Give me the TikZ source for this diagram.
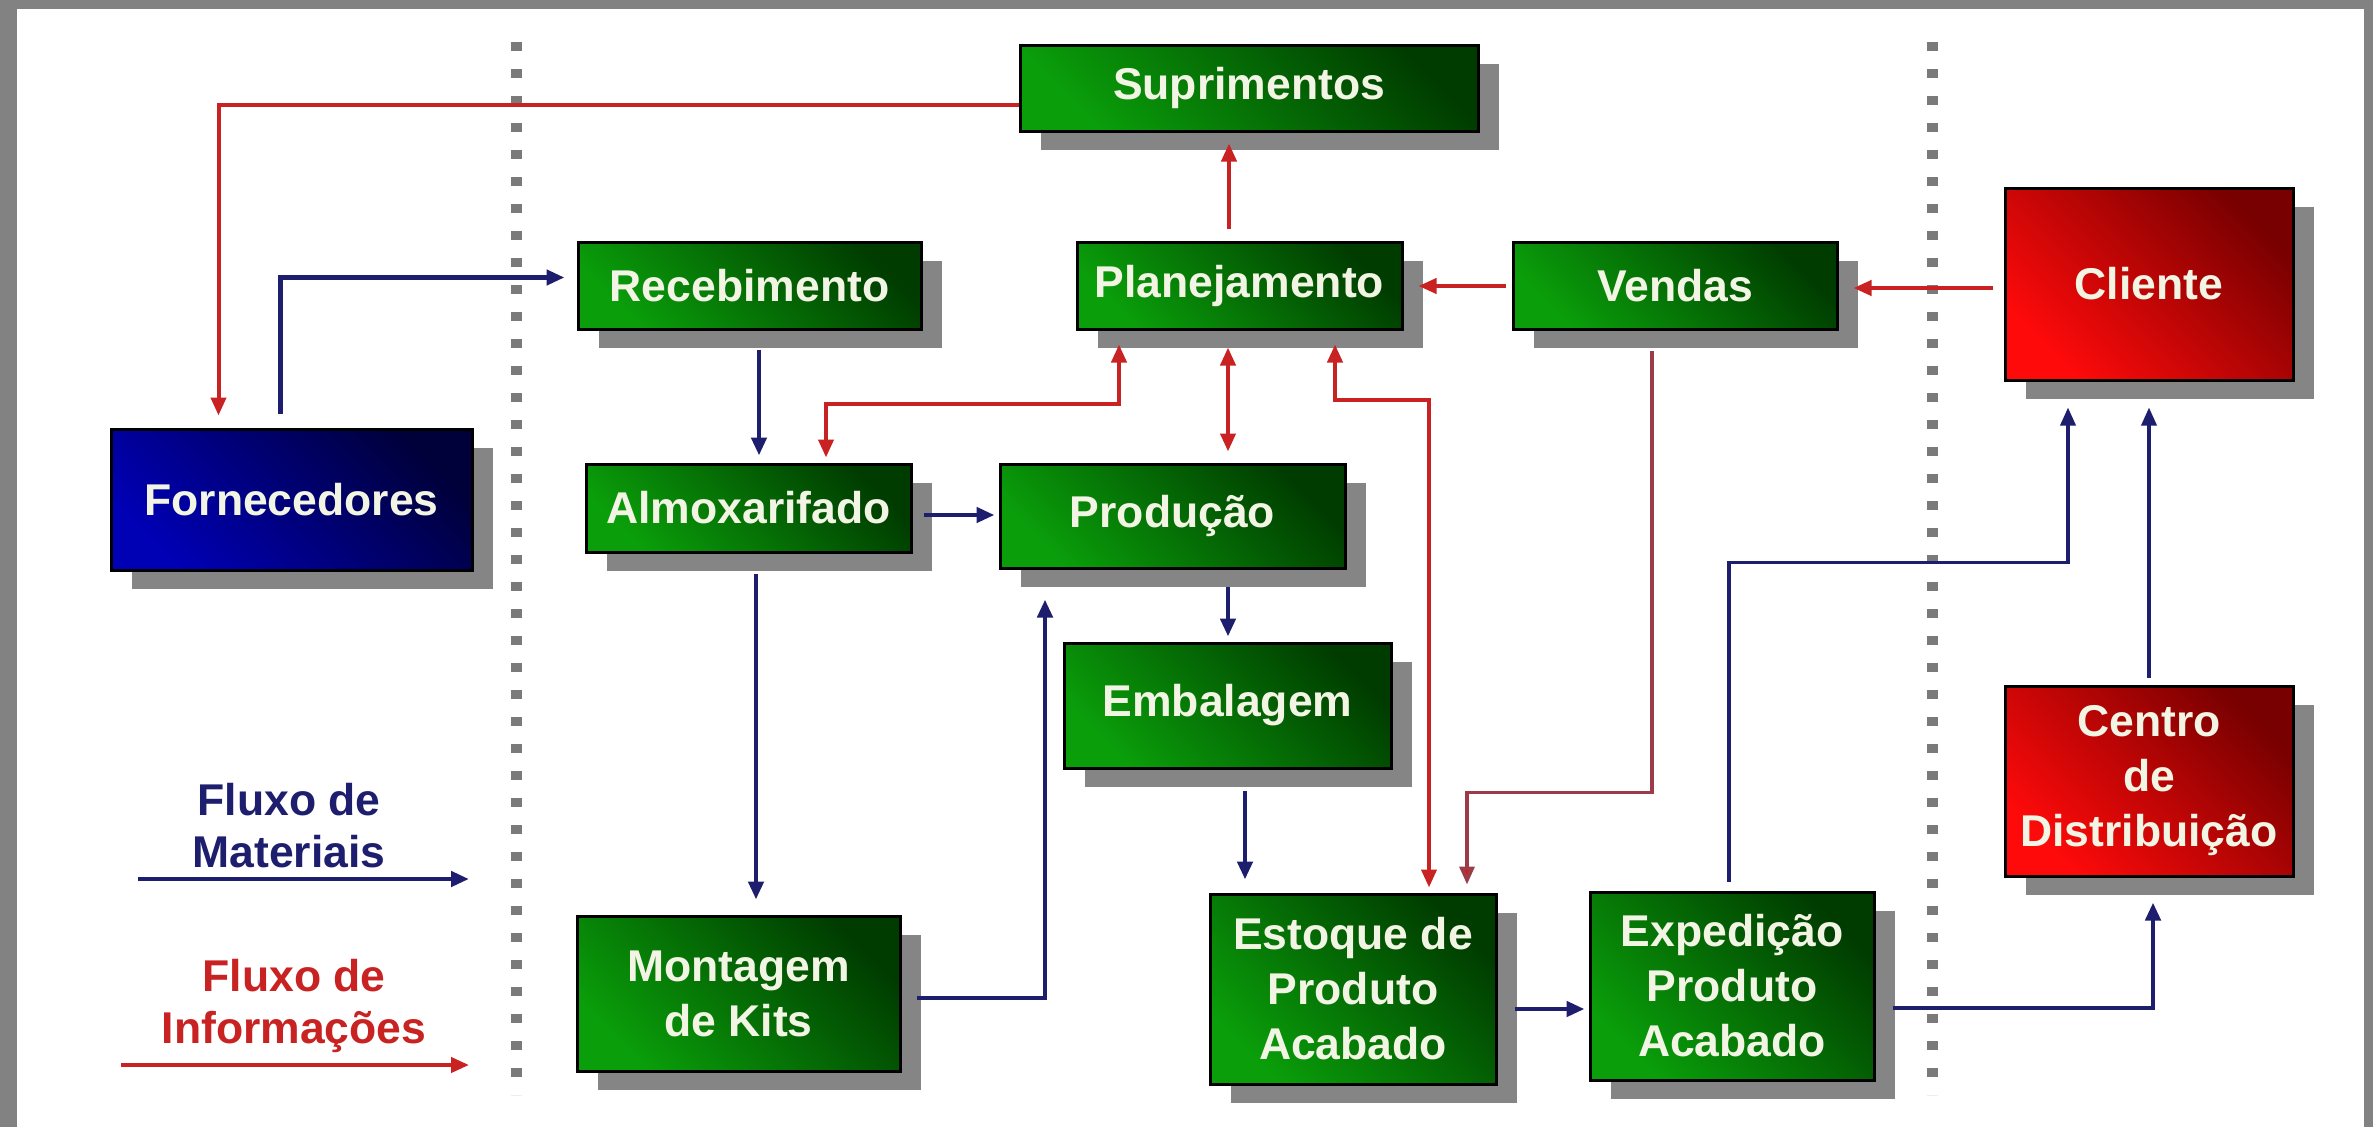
\documentclass[tikz,border=0pt]{standalone}
\usepackage{fontspec}
\setmainfont{Liberation Sans}
\usetikzlibrary{arrows.meta,shadows,calc}
\definecolor{gdark}{HTML}{003C00}
\definecolor{glight}{HTML}{0A9E0A}
\definecolor{bdark}{HTML}{00003A}
\definecolor{blight}{HTML}{0000B4}
\definecolor{rdark}{HTML}{780000}
\definecolor{rlight}{HTML}{FF0A0A}
\definecolor{shadowgray}{HTML}{858585}
\definecolor{boxtext}{HTML}{F2F4E4}
\definecolor{matblue}{HTML}{1E1E6E}
\definecolor{infored}{HTML}{C82222}
\definecolor{infobrown}{HTML}{9C3C48}
\definecolor{framegray}{HTML}{828282}
\definecolor{dotgray}{HTML}{7A7A7A}
\newcommand\boxfont{\bfseries\fontsize{44.5}{55}\selectfont}
\newcommand\legfont{\bfseries\fontsize{44.5}{52}\selectfont}
\begin{document}
\begin{tikzpicture}[x=1pt,y=-1pt,
  box/.style={draw=black, line width=3pt, text=boxtext, font=\boxfont, align=center, inner sep=0pt,
    drop shadow={shadow xshift=21pt, shadow yshift=-19pt, fill=shadowgray, opacity=1}},
  gbox/.style={box, top color=gdark, bottom color=glight, shading angle=-45},
  bbox/.style={box, top color=bdark, bottom color=blight, shading angle=-45},
  rbox/.style={box, top color=rdark, bottom color=rlight, shading angle=-45},
  legtext/.style={font=\legfont, align=center, inner sep=0pt},
  mat/.style={draw=matblue, line width=4.5pt, -{Triangle[length=18pt,width=15pt]}},
  info/.style={draw=infored, line width=4pt, -{Triangle[length=18pt,width=15pt]}},
  infotwo/.style={draw=infored, line width=4pt, {Triangle[length=18pt,width=15pt]}-{Triangle[length=18pt,width=15pt]}},
  sepline/.style={draw=dotgray, line width=11pt, dash pattern=on 9pt off 18pt}
]
\useasboundingbox (0,0) rectangle (2373,1127);
% frame
\fill[framegray] (0,0) rectangle (2373,1127);
\fill[white] (17,9) rectangle (2364,1127);
% separators
\coordinate (d1a) at (516,42);
\coordinate (d1b) at (516,1095);
\coordinate (d2a) at (1932,42);
\coordinate (d2b) at (1932,1095);
\draw[sepline] (d1a) -- (d1b);
\draw[sepline] (d2a) -- (d2b);
% boxes
\node[gbox, minimum width=458pt, minimum height=86pt] (sup) at (1249,88) {Suprimentos};
\node[gbox, minimum width=343pt, minimum height=87pt] (rec) at (749.5,285.5) {Recebimento};
\node[gbox, minimum width=325pt, minimum height=87pt] (plan) at (1239.5,285.5) {Planejamento};
\node[gbox, minimum width=324pt, minimum height=87pt] (ven) at (1675,285.5) {Vendas};
\node[rbox, minimum width=288pt, minimum height=192pt] (cli) at (2149,284) {Cliente};
\node[bbox, minimum width=361pt, minimum height=141pt] (forn) at (291.5,499.5) {Fornecedores};
\node[gbox, minimum width=325pt, minimum height=88pt] (almox) at (748.5,508) {Almoxarifado};
\node[gbox, minimum width=345pt, minimum height=104pt] (prod) at (1172.5,516) {Produção};
\node[gbox, minimum width=327pt, minimum height=125pt] (emb) at (1227.5,705.5) {Embalagem};
\node[gbox, minimum width=323pt, minimum height=155pt] (mont) at (738.5,993.5) {Montagem\\de Kits};
\node[gbox, minimum width=286pt, minimum height=190pt] (est) at (1353,989) {Estoque de\\Produto\\Acabado};
\node[gbox, minimum width=284pt, minimum height=188pt] (exp) at (1732,986) {Expedição\\Produto\\Acabado};
\node[rbox, minimum width=288pt, minimum height=190pt] (cd) at (2149,781) {Centro\\de\\Distribuição};
% legend
\node[legtext, text=matblue] (lmat) at (289,826) {Fluxo de\\Materiais};
\node[legtext, text=infored] (linf) at (294,1006) {Fluxo de\\Informações};
\coordinate (lm1) at (138,879);
\coordinate (lm2) at (469,879);
\coordinate (li1) at (121,1065);
\coordinate (li2) at (469,1065);
\draw[mat] (lm1) -- (lm2);
\draw[info] (li1) -- (li2);
% information flows
\draw[info] ($(sup.west)+(0,17)$) -| ($(forn.north west)+(109,-12)$);
\draw[info] ($(plan.north)+(-10.5,-12)$) -- ($(sup.south)+(-20,11)$);
\draw[info] ($(ven.west)+(-6,0.5)$) -- ($(plan.east)+(15,0.5)$);
\draw[info] ($(cli.west)+(-11,4)$) -- ($(ven.east)+(15,2.5)$);
\draw[infotwo] ($(plan.south)+(-120.5,14)$) -- ++(0,59) -| ($(almox.north)+(77.5,-5)$);
\draw[infotwo] ($(plan.south)+(-11.5,17)$) -- ($(prod.north)+(55.5,-11)$);
\draw[infotwo] ($(plan.south)+(95.5,14)$) -- ++(0,55) -| ($(est.north)+(76,-5)$);
\draw[info, draw=infobrown, line width=3.5pt, -{Triangle[length=18pt,width=15pt,fill=infored]}] ($(ven.south)+(-23,20)$) -- ++(0,442) -| ($(est.north)+(114,-8)$);
% material flows
\draw[mat] ($(forn.north west)+(171,-14)$) |- ($(rec.west)+(-12,-8)$);
\draw[mat] ($(rec.south)+(9.5,19)$) -- ($(almox.north)+(10.5,-7)$);
\draw[mat] ($(almox.south)+(7.5,20)$) -- ($(mont.north)+(17.5,-15)$);
\draw[mat] ($(almox.east)+(11,7)$) -- ($(prod.west)+(-4,-1)$);
\draw[mat] ($(prod.south)+(55.5,17)$) -- ($(emb.north)+(0.5,-5)$);
\draw[mat] ($(emb.south)+(17.5,21)$) -- ($(est.north)+(-108,-13)$);
\draw[mat] ($(mont.east)+(15,4.5)$) -| ($(prod.south)+(-127.5,30)$);
\draw[mat] ($(est.east)+(17,20)$) -- ($(exp.west)+(-4,23)$);
\draw[mat] ($(exp.east)+(17,22)$) -| ($(cd.south)+(4,25)$);
\draw[mat, line width=3.5pt] ($(exp.north)+(-3,-9)$) -- ++(0,-319) -| ($(cli.south)+(-81,26)$);
\draw[mat, line width=3.5pt] ($(cd.north)+(0,-7)$) -- ($(cli.south)+(0,26)$);
\end{tikzpicture}
\end{document}
